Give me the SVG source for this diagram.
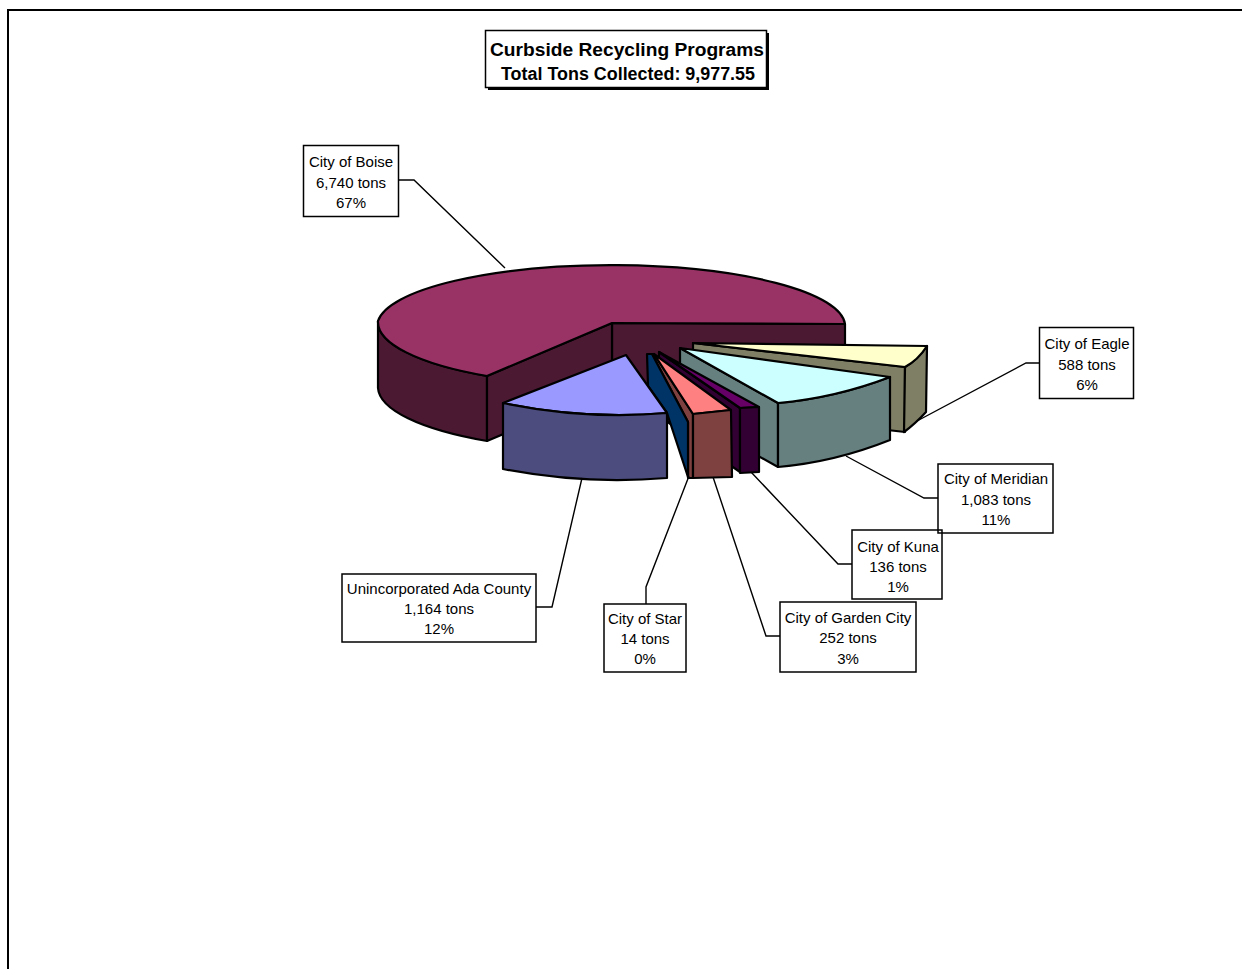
<svg xmlns="http://www.w3.org/2000/svg" width="1242" height="969" viewBox="0 0 1242 969">
  <style>
    .pie path, .pie polygon { stroke:#000; stroke-width:2.2; stroke-linejoin:round; }
    .lbl rect { fill:none; stroke:#000; stroke-width:1.5; }
    .lbl text { font-family:"Liberation Sans", Arial, sans-serif; font-size:15px; text-anchor:middle; fill:#000; }
    .title text { font-family:"Liberation Sans", Arial, sans-serif; font-size:18px; font-weight:bold; text-anchor:middle; fill:#000; }
    .conn polyline { fill:none; stroke:#000; stroke-width:1.4; }
  </style>
  <rect x="0" y="0" width="1242" height="969" fill="#fff"/>
  <path d="M8,969 V10 H1242" fill="none" stroke="#000" stroke-width="2"/>

  <g id="title" class="title">
    <rect x="488" y="33" width="281" height="57" fill="#000"/>
    <rect x="485.5" y="30.5" width="281" height="57" fill="#fff" stroke="#000" stroke-width="1.5"/>
    <text x="627" y="56" textLength="274" lengthAdjust="spacingAndGlyphs">Curbside Recycling Programs</text>
    <text x="628" y="80" textLength="254" lengthAdjust="spacingAndGlyphs">Total Tons Collected: 9,977.55</text>
  </g>

  <g class="pie">
    <g id="slice-boise">
      <path d="M378,321 A234,64 0 0 0 487,376 L487,441 A234,64 0 0 1 378,388 Z" fill="#4c1933"/>
      <polygon points="612,323 845,324 845,389 612,388" fill="#4c1933"/>
      <polygon points="612,323 487,376 487,441 612,388" fill="#4c1933"/>
      <path d="M612,323 L845,324 A234,61 0 0 0 378,321 A234,64 0 0 0 487,376 Z" fill="#993366"/>
    </g>
    <g id="slice-eagle">
      <polygon points="693,343 905,367 905,432 693,408" fill="#7f7f66"/>
      <path d="M905,367 Q918,360 927,346 L926,412 Q915,424 904,432 Z" fill="#7f7f66"/>
      <path d="M693,343 L905,367 Q918,360 927,346 Z" fill="#ffffcc"/>
    </g>
    <g id="slice-meridian">
      <polygon points="680,348 778,403 778,467 680,412" fill="#667f7f"/>
      <path d="M778,403 Q835,398 890,377 L890,440 Q835,462 778,467 Z" fill="#667f7f"/>
      <path d="M680,348 L778,403 Q835,398 890,377 Z" fill="#ccffff"/>
    </g>
    <g id="slice-kuna">
      <polygon points="659,352 740,408 740,472 659,416" fill="#330033"/>
      <polygon points="659,352 740,408 759,407" fill="#660066"/>
      <polygon points="740,408 759,407 759,472 740,473" fill="#330033"/>
    </g>
    <g id="slice-gardencity">
      <polygon points="652,354 654,354 693,414 693,478 688,478 688,422" fill="#7f4040"/>
      <polygon points="654,354 693,414 731,410" fill="#ff8080"/>
      <polygon points="693,414 731,410 732,477 693,478" fill="#7f4040"/>
    </g>
    <g id="slice-star">
      <polygon points="647,354 652,354 688,422 688,477 667,413 648,386" fill="#003366"/>
    </g>
    <g id="slice-ada">
      <path d="M626,355 L503,403 Q585,420 667,413 Z" fill="#9999ff"/>
      <path d="M503,403 Q585,420 667,413 L667,478 Q585,485 503,469 Z" fill="#4c4c7f"/>
    </g>
  </g>

  <g id="connectors" class="conn">
    <polyline points="398,180 414,180 505,268"/>
    <polyline points="1039,363 1026,363 917,421"/>
    <polyline points="938,498 924,498 846,456"/>
    <polyline points="852,564 838,564 751,472"/>
    <polyline points="780,636 766,636 713,477"/>
    <polyline points="646,604 646,587 689,476"/>
    <polyline points="536,607 552,607 582,478"/>
  </g>

  <g id="label-boise" class="lbl">
    <rect x="303.5" y="145.5" width="95" height="71"/>
    <text x="351" y="167">City of Boise</text>
    <text x="351" y="188">6,740 tons</text>
    <text x="351" y="208">67%</text>
  </g>
  <g id="label-eagle" class="lbl">
    <rect x="1039.5" y="327.5" width="94" height="71"/>
    <text x="1087" y="349">City of Eagle</text>
    <text x="1087" y="370">588 tons</text>
    <text x="1087" y="390">6%</text>
  </g>
  <g id="label-meridian" class="lbl">
    <rect x="938" y="464" width="115" height="69"/>
    <text x="996" y="484">City of Meridian</text>
    <text x="996" y="505">1,083 tons</text>
    <text x="996" y="525">11%</text>
  </g>
  <g id="label-kuna" class="lbl">
    <rect x="852" y="530" width="90" height="69"/>
    <text x="898" y="552">City of Kuna</text>
    <text x="898" y="572">136 tons</text>
    <text x="898" y="592">1%</text>
  </g>
  <g id="label-gardencity" class="lbl">
    <rect x="780" y="602" width="136" height="70"/>
    <text x="848" y="623">City of Garden City</text>
    <text x="848" y="643">252 tons</text>
    <text x="848" y="664">3%</text>
  </g>
  <g id="label-star" class="lbl">
    <rect x="604" y="604" width="82" height="68"/>
    <text x="645" y="624">City of Star</text>
    <text x="645" y="644">14 tons</text>
    <text x="645" y="664">0%</text>
  </g>
  <g id="label-ada" class="lbl">
    <rect x="342" y="574" width="194" height="68"/>
    <text x="439" y="594">Unincorporated Ada County</text>
    <text x="439" y="614">1,164 tons</text>
    <text x="439" y="634">12%</text>
  </g>
</svg>
